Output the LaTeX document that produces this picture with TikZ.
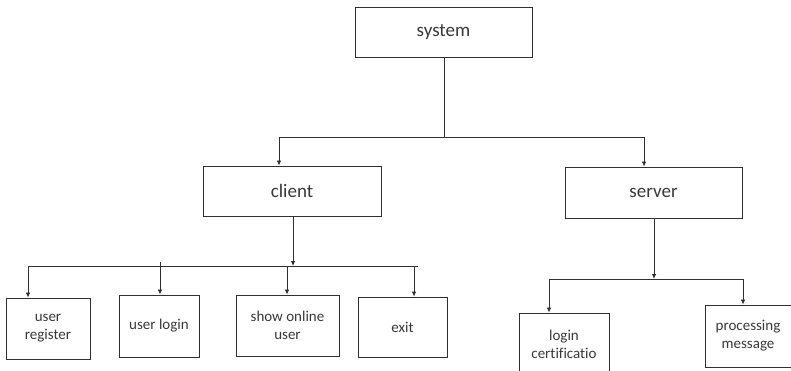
\documentclass[tikz,border=0pt]{standalone}
\usepackage{fontspec}
\setmainfont[Ligatures=NoCommon]{Carlito}
\usetikzlibrary{arrows.meta}
\definecolor{txt}{HTML}{383838}
\definecolor{ln}{HTML}{303030}
\begin{document}
\begin{tikzpicture}[x=1pt,y=-1pt,
  box/.style={draw=ln, line width=0.9pt, rectangle, inner sep=0pt, align=center, text=txt},
  big/.style={box, font=\fontsize{19}{22}\selectfont},
  small/.style={box, font=\fontsize{15}{18}\selectfont},
  conn/.style={draw=ln, line width=0.8pt},
  arr/.style={conn, -{Latex[length=5pt,width=4.5pt]}}]
\useasboundingbox (0,0) rectangle (791,370);
\clip (0,0) rectangle (791,370);
% top level
\node[big, minimum width=177pt, minimum height=50pt] (system) at (443.5,32) {system};
\node[big, minimum width=178pt, minimum height=50pt] (client) at (292,191) {client};
\node[big, minimum width=177pt, minimum height=51pt] (server) at (653.5,192.5) {server};
% client leaves
\node[small, minimum width=84pt, minimum height=61pt] (ureg) at (48,328.5) {user\\register};
\node[small, minimum width=80pt, minimum height=62pt] (ulog) at (159,326) {user login};
\node[small, minimum width=103pt, minimum height=61pt] (show) at (287.5,325.5) {show online\\user};
\node[small, minimum width=89pt, minimum height=60pt] (exit) at (402.5,327) {exit};
% server leaves
\node[small, minimum width=90pt, minimum height=62pt] (lcert) at (564,344) {login\\certificatio};
\node[small, minimum width=86pt, minimum height=62pt] (proc) at (748,336) {processing\\message};
% junction coordinates
\coordinate (j1) at (444,137);
\coordinate (j1l) at (279,137);
\coordinate (j1r) at (644,137);
\coordinate (j2) at (293,266);
\coordinate (j2l) at (28,266);
\coordinate (j2r) at (418,266);
\coordinate (b1) at (28,266);
\coordinate (b2) at (160,266);
\coordinate (b3) at (287,266);
\coordinate (b4) at (414,266);
\coordinate (j3) at (654,279);
\coordinate (j3l) at (549,279);
\coordinate (j3r) at (743,279);
% system to client/server
\draw[conn] (system.south -| j1) -- (j1);
\draw[conn] (j1l) -- (j1r);
\draw[arr] (j1l) -- (j1l |- client.north);
\draw[arr] (j1r) -- (j1r |- server.north);
% client to leaves
\draw[arr] (client.south -| j2) -- (j2);
\draw[conn] (j2l) -- (j2r);
\draw[arr] (b1) -- (b1 |- ureg.north);
\draw[arr] ([yshift=4pt]b2) -- (b2 |- ulog.north);
\draw[arr] (b3) -- (b3 |- show.north);
\draw[arr] (b4) -- (b4 |- exit.north);
% server to leaves
\draw[arr] (server.south -| j3) -- (j3);
\draw[conn] (j3l) -- (j3r);
\draw[arr] (j3l) -- (j3l |- lcert.north);
\draw[arr] (j3r) -- (j3r |- proc.north);
\end{tikzpicture}
\end{document}
